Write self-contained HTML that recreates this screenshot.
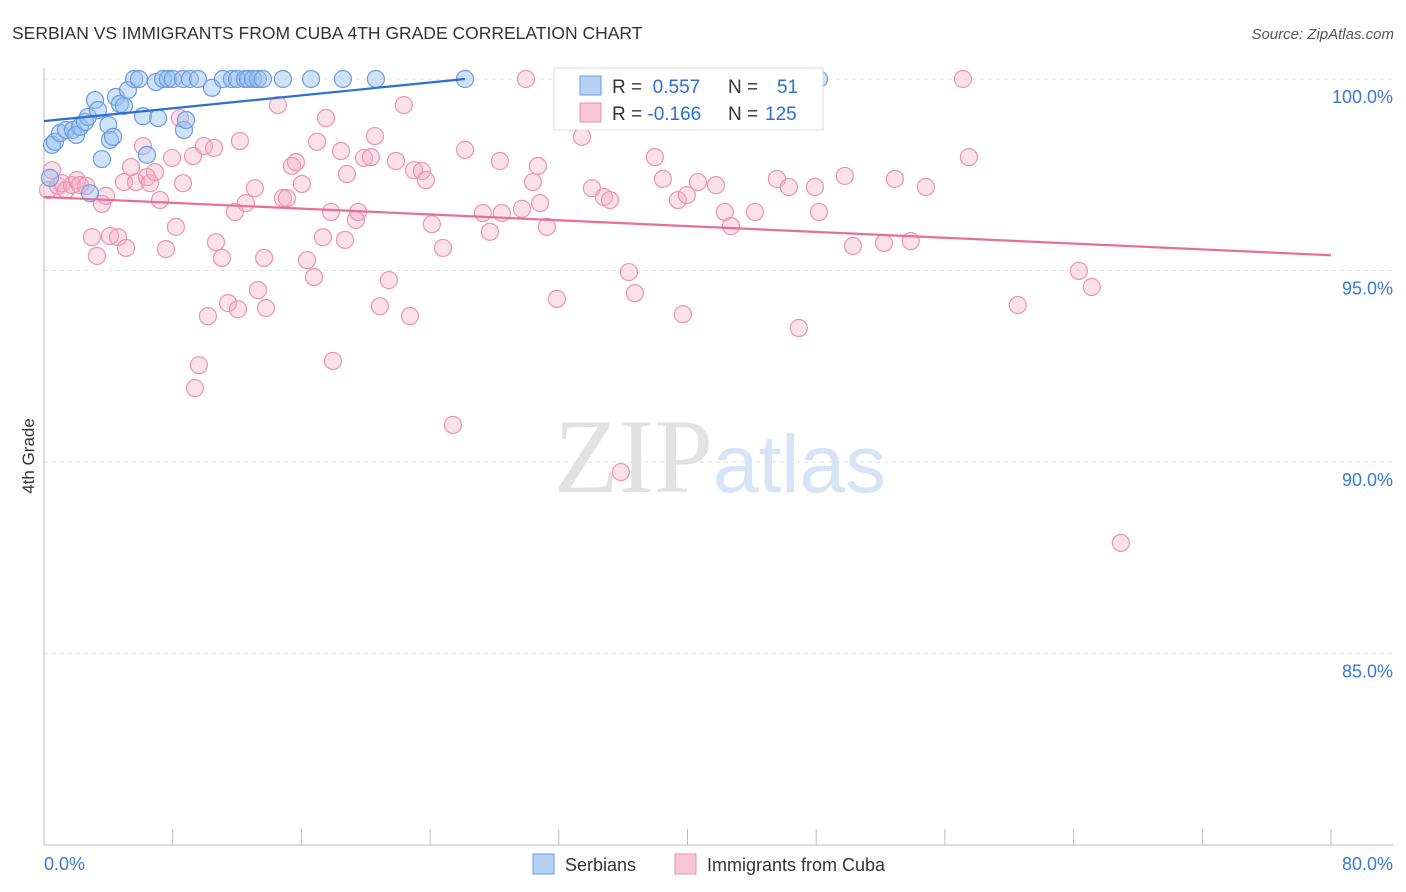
<!DOCTYPE html>
<html><head><meta charset="utf-8"><style>
body{margin:0;background:#fff;font-family:"Liberation Sans",sans-serif;}
svg{display:block}
</style></head><body>
<svg id="chart" width="1406" height="892">
<text x="12" y="39" font-size="17.5" fill="#333">SERBIAN VS IMMIGRANTS FROM CUBA 4TH GRADE CORRELATION CHART</text>
<text x="1394" y="39" font-size="15" fill="#555" font-style="italic" text-anchor="end">Source: ZipAtlas.com</text>
<text x="34" y="456" font-size="17" fill="#333" transform="rotate(-90 34 456)" text-anchor="middle">4th Grade</text>
<g id="grid"></g><g id="axes"></g>
<text x="720" y="492" font-size="106" fill="#e2e2e2" text-anchor="middle" font-family="Liberation Serif,serif">ZIP<tspan fill="#d6e4f6" font-family="Liberation Sans,sans-serif" font-size="82">atlas</tspan></text>
<g id="marks"></g>
<g>
<rect x="554" y="68" width="269" height="62" fill="#fff" stroke="#ddd"/>
<rect x="580" y="76" width="21" height="19" fill="#b7d1f3" stroke="#6a9ae0"/>
<rect x="580" y="103" width="21" height="19" fill="#f9c6d6" stroke="#e890ae"/>
<text x="612" y="93" font-size="19" fill="#333">R = <tspan fill="#2f6fd0">&#160;0.557</tspan><tspan x="728">N = </tspan><tspan x="777" fill="#2f6fd0">51</tspan></text>
<text x="612" y="120" font-size="19" fill="#333">R = <tspan fill="#2f6fd0">-0.166</tspan><tspan x="728">N = </tspan><tspan x="765" fill="#2f6fd0">125</tspan></text>
</g>
<g>
<rect x="533" y="854" width="21" height="20" fill="#b7d1f3" stroke="#6a9ae0"/>
<text x="565" y="871" font-size="18" fill="#333">Serbians</text>
<rect x="675" y="854" width="21" height="20" fill="#f9c6d6" stroke="#e890ae"/>
<text x="707" y="871" font-size="18" fill="#333">Immigrants from Cuba</text>
</g>
</svg>
<script>
const yTicks=[100,95,90,85];
const yTickLabels=["100.0%","95.0%","90.0%","85.0%"];
const xTickLabels=["0.0%","80.0%"];
const blueX=[0.5,0.68,1.0,1.37,1.8,2.0,2.24,2.55,2.73,3.17,3.36,3.6,4.0,4.1,4.29,4.47,4.72,4.97,5.22,5.6,5.9,6.15,6.4,6.96,7.09,7.4,7.7,8.0,8.64,8.7,8.83,9.07,9.57,10.44,11.12,11.68,12.0,12.49,12.68,12.99,13.3,13.61,14.85,16.6,18.58,20.63,26.17,37.17,48.17,0.37,2.86];
const blueY=[98.28,98.36,98.59,98.67,98.67,98.54,98.75,98.88,99.01,99.45,99.19,97.91,98.8,98.41,98.49,99.53,99.35,99.3,99.71,100,100,99.03,98.02,99.92,98.98,100,100,100,100,98.67,98.93,100,100,99.77,100,100,100,100,100,100,100,100,100,100,100,100,100,100,100,97.42,97.02];
const pinkX=[0.25,0.5,0.87,1.12,1.37,1.74,2.05,2.24,2.61,2.98,3.29,3.6,3.85,4.1,4.6,4.97,5.1,5.41,5.72,6.15,6.4,6.59,6.9,7.21,7.58,7.96,8.2,8.45,8.64,9.26,9.38,9.63,9.94,10.19,10.57,10.69,11.06,11.44,11.87,12.06,12.18,12.55,13.11,13.3,13.68,13.8,14.54,14.85,15.1,15.41,15.66,16.03,16.35,16.78,16.97,17.53,17.34,17.84,17.96,18.46,18.71,18.83,19.39,19.52,19.89,20.32,20.57,20.88,21.44,21.88,22.37,22.75,23.0,23.49,23.74,24.11,24.8,25.42,26.17,27.28,27.72,28.34,28.46,29.71,29.96,30.39,30.7,30.83,31.26,31.88,33.44,34.06,34.8,35.18,35.86,36.36,36.73,37.97,38.47,39.4,39.71,39.96,40.65,41.77,42.32,42.7,44.19,45.56,46.3,46.92,47.92,48.17,49.78,50.28,52.21,52.89,53.88,54.82,57.12,57.49,60.53,64.33,65.13,66.94];
const pinkY=[97.10,97.62,97.21,97.28,97.10,97.23,97.36,97.23,97.21,95.87,95.38,96.74,96.95,95.90,95.87,97.31,95.59,97.70,97.31,98.25,97.44,97.28,97.57,96.84,95.56,97.94,96.14,98.98,97.28,97.99,91.93,92.53,98.25,93.81,98.20,95.74,95.33,94.15,96.53,93.99,98.38,96.76,97.15,94.49,95.33,94.02,99.32,96.89,96.89,97.73,97.83,97.26,95.27,94.83,98.36,98.98,95.87,96.53,92.64,98.12,95.80,97.52,96.32,96.53,97.94,97.96,98.51,94.07,94.75,97.86,99.32,93.81,97.62,97.60,97.36,96.21,95.59,90.97,98.15,96.50,96.01,97.86,96.50,96.61,100,97.31,97.73,96.76,96.14,94.26,98.49,97.15,96.92,96.84,89.74,94.96,94.41,97.96,97.39,96.84,93.86,96.97,97.31,97.23,96.53,96.16,96.53,97.39,97.18,93.50,97.18,96.53,97.47,95.64,95.72,97.39,95.77,97.18,100,97.96,94.10,94.99,94.57,87.89];
const blueTrend=[[0,98.9],[26.17,100]];
const pinkTrend=[[0,96.92],[80,95.4]];
const X=v=>44+v*16.0875, Y=v=>79+(100-v)*38.31;
const NS="http://www.w3.org/2000/svg";
function mk(tag,attrs,parent){const e=document.createElementNS(NS,tag);for(const k in attrs)e.setAttribute(k,attrs[k]);document.getElementById(parent).appendChild(e);return e;}
yTicks.forEach((t,i)=>{
 const g=mk('line',{x1:44,x2:1393,y1:Y(t),y2:Y(t),stroke:'#e4e4e4','stroke-dasharray':'4 4'},'grid');
 
 
 const l=mk('text',{x:1393,y:Y(t)+24,'font-size':18,fill:'#3a78d4','text-anchor':'end'},'axes');
 l.textContent=yTickLabels[i];
 
 
});
const ax=mk('line',{x1:44,x2:44,y1:68,y2:845,stroke:'#bbb'},'axes');


const bx=mk('line',{x1:44,x2:1393,y1:845,y2:845,stroke:'#bbb'},'axes');


for(let i=0;i<=10;i++){const t=mk('line',{x1:X(i*8),x2:X(i*8),y1:829,y2:845,stroke:'#bbb'},'axes');
 
 }
const xl0=mk('text',{x:44,y:870,'font-size':18,fill:'#3a78d4'},'axes');xl0.textContent=xTickLabels[0];


const xl1=mk('text',{x:1393,y:870,'font-size':18,fill:'#3a78d4','text-anchor':'end'},'axes');xl1.textContent=xTickLabels[1];


pinkX.forEach((x,i)=>{const c=mk('circle',{cx:X(x),cy:Y(pinkY[i]),r:8.5,fill:'rgba(245,170,196,0.35)',stroke:'#eb93b2','stroke-width':1.2},'marks');
 
 });
blueX.forEach((x,i)=>{const c=mk('circle',{cx:X(x),cy:Y(blueY[i]),r:8.5,fill:'rgba(150,190,240,0.45)',stroke:'#6a9ae0','stroke-width':1.2},'marks');
 
 });
const pt=mk('line',{x1:X(pinkTrend[0][0]),y1:Y(pinkTrend[0][1]),x2:X(pinkTrend[1][0]),y2:Y(pinkTrend[1][1]),stroke:'#e86d98','stroke-width':2.2},'marks');


const bt=mk('line',{x1:X(blueTrend[0][0]),y1:Y(blueTrend[0][1]),x2:X(blueTrend[1][0]),y2:Y(blueTrend[1][1]),stroke:'#2a6ed6','stroke-width':2.2},'marks');


</script>
</body></html>
